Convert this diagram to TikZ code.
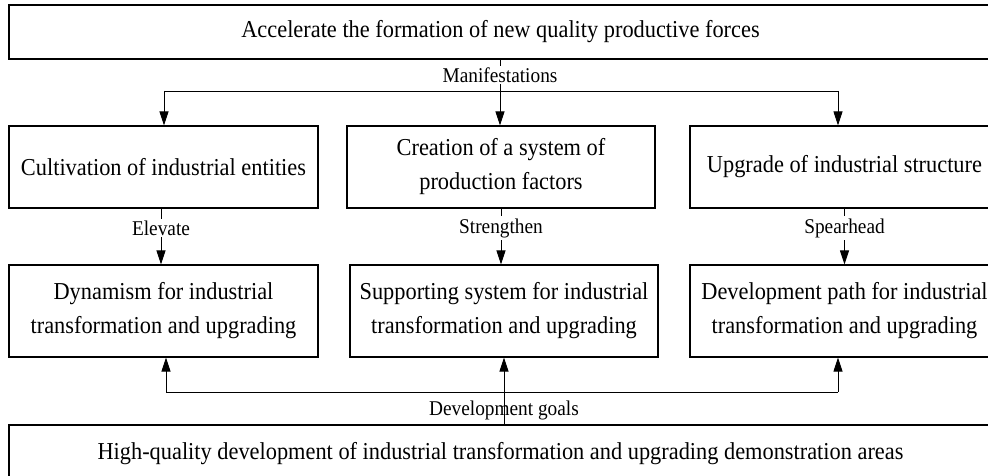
\documentclass[tikz,border=0pt]{standalone}
\usepackage{fontspec}
\setmainfont{Liberation Serif}[FakeStretch=0.92]
\usetikzlibrary{arrows.meta}
\begin{document}
\begin{tikzpicture}[x=1pt,y=-1pt,
  box/.style={draw, line width=1.2pt, inner sep=0pt, align=center,
    font=\fontsize{24.3}{34}\selectfont},
  tag/.style={fill=white, inner sep=2pt, font=\fontsize{21}{24}\selectfont},
  link/.style={line width=0.9pt},
  arr/.style={line width=0.9pt, -{Triangle[length=14pt,width=9pt]}}]
\useasboundingbox (0,0) rectangle (988,476);
\clip (0,0) rectangle (988,476);

% top and bottom banners
\node[box, minimum width=983pt, minimum height=54pt] (top) at (500.5,32)
  {Accelerate the formation of new quality productive forces};
\node[box, minimum width=983pt, minimum height=70pt] (bot) at (500.5,460)
  {\raisebox{19pt}{High-quality development of industrial transformation and upgrading demonstration areas}};

% second row
\node[box, minimum width=309pt, minimum height=82pt] (a1) at (163.5,167)
  {Cultivation of industrial entities};
\node[box, minimum width=308pt, minimum height=82pt] (b1) at (501,167)
  {Creation of a system of\\production factors};
\node[box, minimum width=309pt, minimum height=82pt] (c1) at (844.5,167)
  {Upgrade of industrial structure};

% third row
\node[box, minimum width=309pt, minimum height=92pt] (a2) at (163.5,311)
  {Dynamism for industrial\\transformation and upgrading};
\node[box, minimum width=308pt, minimum height=92pt] (b2) at (504,311)
  {Supporting system for industrial\\transformation and upgrading};
\node[box, minimum width=309pt, minimum height=92pt] (c2) at (844.5,311)
  {Development path for industrial\\transformation and upgrading};

% junction points
\coordinate (tj) at (500,91);
\coordinate (tl) at (164,91);
\coordinate (tr) at (838,91);
\coordinate (bj) at (504,392);
\coordinate (bl) at (166,392);
\coordinate (br) at (838,392);

% manifestations: top banner to second row
\draw[link] (top.south -| tj) -- (tj);
\draw[link] (tl) -- (tr);
\draw[arr] (tl) -- (tl |- a1.north);
\draw[arr] (tj) -- (tj |- b1.north);
\draw[arr] (tr) -- (tr |- c1.north);
\node[tag] (lm) at (500,75) {Manifestations};

% second row to third row
\draw[arr] ([xshift=-2.5pt]a1.south) -- ([xshift=-2.5pt]a1.south |- a2.north);
\draw[arr] (b1.south) -- (b1.south |- b2.north);
\draw[arr] (c1.south) -- (c1.south |- c2.north);
\node[tag] (le) at (161,228) {Elevate};
\node[tag] (ls) at (501,228) {Strengthen};
\node[tag] (lp) at (844.5,228) {Spearhead};

% development goals: bottom banner up to third row (line runs through the label)
\node[tag, fill=none] (lg) at (504,410) {Development goals};
\draw[link] (bot.north -| bj) -- (bj);
\draw[link] (bl) -- (br);
\draw[arr] (bl) -- (bl |- a2.south);
\draw[arr] (bj) -- (bj |- b2.south);
\draw[arr] (br) -- (br |- c2.south);
\end{tikzpicture}
\end{document}
